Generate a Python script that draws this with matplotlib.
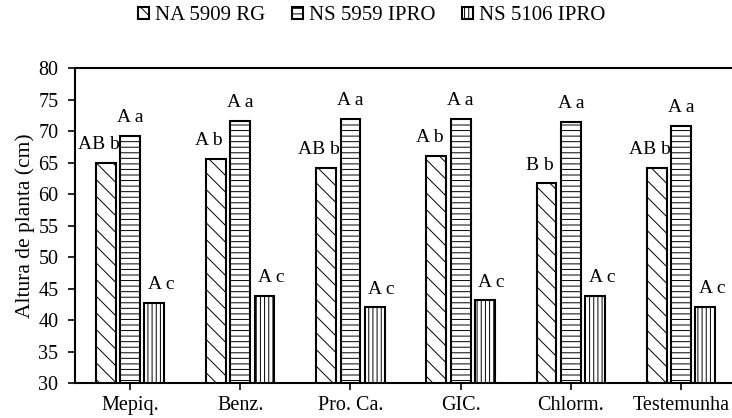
import numpy as np
import matplotlib
matplotlib.use('Agg')
import matplotlib.pyplot as plt


# -----------------------------------------------------------------------------
# data
# -----------------------------------------------------------------------------
categories = ['Mepiq.', 'Benz.', 'Pro. Ca.', 'GIC.', 'Chlorm.', 'Testemunha']
series_names = ['NA 5909 RG', 'NS 5959 IPRO', 'NS 5106 IPRO']

na_5909 = [65.0, 65.6, 64.2, 66.1, 61.7, 64.2]
ns_5959 = [69.2, 71.6, 71.9, 71.9, 71.5, 70.8]
ns_5106 = [42.7, 43.8, 42.0, 43.1, 43.8, 42.1]

lab_5909 = ['AB b', 'A b', 'AB b', 'A b', 'B b', 'AB b']
lab_5959 = ['A a', 'A a', 'A a', 'A a', 'A a', 'A a']
lab_5106 = ['A c', 'A c', 'A c', 'A c', 'A c', 'A c']

y_ticks = [30, 35, 40, 45, 50, 55, 60, 65, 70, 75, 80]


# -----------------------------------------------------------------------------
# matplotlib options
# -----------------------------------------------------------------------------
plt.rcParams['font.family'] = ['Liberation Serif', 'DejaVu Serif']
plt.rcParams['font.size'] = 14
plt.rcParams['hatch.linewidth'] = 0.7


# -----------------------------------------------------------------------------
# figure
# -----------------------------------------------------------------------------
fig = plt.figure(figsize=(7.32, 4.18), dpi=100)
ax = fig.add_axes([0.1025, 0.0837, 0.9030, 0.7536])

x = np.arange(len(categories))
width = 0.18
step = 0.22

values = [na_5909, ns_5959, ns_5106]
labels = [lab_5909, lab_5959, lab_5106]
hatches = ['\\\\', '---', '||||']
label_dx = [-5, 0, 5]

for i, (vals, labs, h) in enumerate(zip(values, labels, hatches)):
    pos = x + (i - 1) * step
    ax.bar(pos, vals, width, color='white', edgecolor='black', linewidth=1.5,
           hatch=h, label=series_names[i], zorder=2)
    for px, v, t in zip(pos, vals, labs):
        ax.annotate(t, (px, v), xytext=(label_dx[i], 7), textcoords='offset points',
                    ha='center', va='bottom', fontsize=14)

ax.set_xlim(-0.5, len(categories) - 0.5)
ax.set_ylim(30, 80)
ax.set_yticks(y_ticks)
ax.set_xticks(x)
ax.set_xticklabels(categories, fontsize=14.5)
ax.tick_params(axis='y', labelsize=14.5, direction='out', length=5, width=1.2, pad=7)
ax.tick_params(axis='x', direction='out', length=5, width=1.2, pad=4)
for s in ax.spines.values():
    s.set_linewidth(1.5)

ax.set_ylabel('Altura de planta (cm)', fontsize=15.5, labelpad=2)

fig.legend(loc='center', bbox_to_anchor=(0.508, 0.962), ncol=3, frameon=False,
           fontsize=15, handlelength=0.5, handleheight=0.5, handletextpad=0.3,
           columnspacing=1.3, borderpad=0.1)

fig.savefig('out.png', dpi=100)
